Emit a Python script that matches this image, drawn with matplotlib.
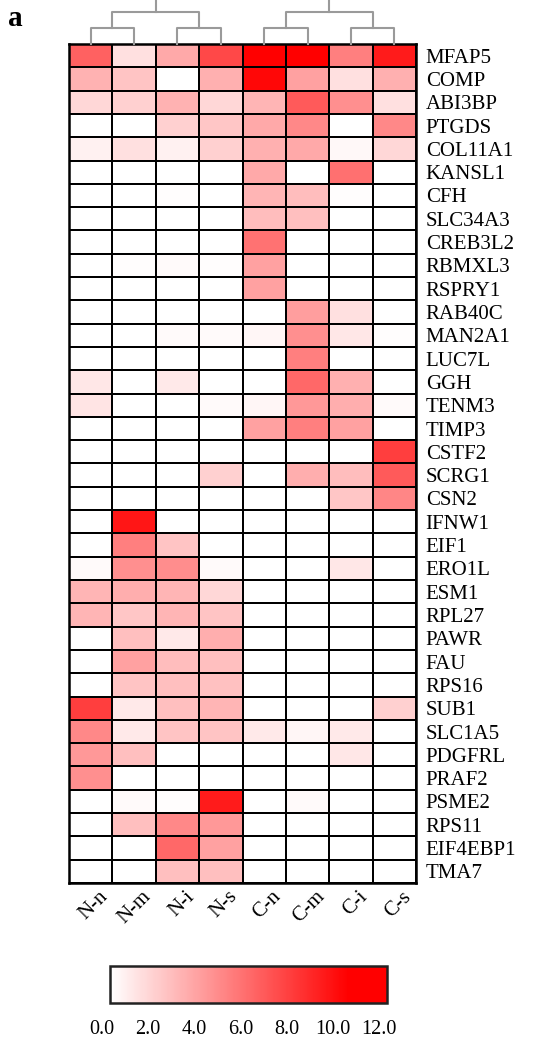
import numpy as np
import matplotlib
matplotlib.use('agg')
import matplotlib.pyplot as plt
from matplotlib.colors import LinearSegmentedColormap
import matplotlib.transforms as mtransforms

plt.rcParams['font.family'] = ['Liberation Serif', 'DejaVu Serif']

samples = ['N-n', 'N-m', 'N-i', 'N-s', 'C-n', 'C-m', 'C-i', 'C-s']
genes = ['MFAP5', 'COMP', 'ABI3BP', 'PTGDS', 'COL11A1', 'KANSL1', 'CFH',
         'SLC34A3', 'CREB3L2', 'RBMXL3', 'RSPRY1', 'RAB40C', 'MAN2A1',
         'LUC7L', 'GGH', 'TENM3', 'TIMP3', 'CSTF2', 'SCRG1', 'CSN2', 'IFNW1',
         'EIF1', 'ERO1L', 'ESM1', 'RPL27', 'PAWR', 'FAU', 'RPS16', 'SUB1',
         'SLC1A5', 'PDGFRL', 'PRAF2', 'PSME2', 'RPS11', 'EIF4EBP1', 'TMA7']

# expression per gene, columns in sample order
values = [
    [6.4, 1.3, 3.5, 7.4, 11.5, 11.0, 5.2, 9.2],
    [3.1, 2.4, 0.0, 3.2, 10.0, 3.8, 1.3, 3.2],
    [1.6, 1.9, 3.1, 1.6, 3.0, 6.7, 4.5, 1.3],
    [0.0, 0.0, 1.9, 2.3, 3.5, 4.8, 0.0, 4.8],
    [0.6, 1.3, 0.6, 1.9, 3.2, 3.5, 0.3, 1.6],
    [0.0, 0.0, 0.0, 0.0, 3.5, 0.0, 5.8, 0.0],
    [0.0, 0.0, 0.1, 0.0, 3.0, 2.7, 0.1, 0.0],
    [0.0, 0.0, 0.0, 0.0, 2.7, 2.6, 0.0, 0.0],
    [0.0, 0.0, 0.0, 0.0, 5.7, 0.0, 0.0, 0.0],
    [0.0, 0.1, 0.2, 0.1, 3.8, 0.0, 0.0, 0.0],
    [0.0, 0.0, 0.0, 0.0, 3.8, 0.0, 0.0, 0.0],
    [0.0, 0.0, 0.0, 0.0, 0.0, 3.9, 1.3, 0.0],
    [0.0, 0.0, 0.2, 0.2, 0.4, 4.5, 1.0, 0.1],
    [0.0, 0.0, 0.0, 0.0, 0.0, 5.2, 0.0, 0.0],
    [1.0, 0.0, 0.9, 0.0, 0.0, 6.1, 3.2, 0.0],
    [1.1, 0.0, 0.0, 0.2, 0.4, 4.2, 3.3, 0.2],
    [0.0, 0.0, 0.0, 0.0, 3.8, 5.2, 3.8, 0.0],
    [0.0, 0.0, 0.0, 0.0, 0.0, 0.0, 0.0, 7.8],
    [0.0, 0.0, 0.0, 1.9, 0.0, 3.3, 2.7, 6.7],
    [0.0, 0.0, 0.0, 0.0, 0.0, 0.0, 2.3, 4.9],
    [0.0, 9.4, 0.0, 0.0, 0.0, 0.0, 0.0, 0.0],
    [0.0, 5.2, 2.4, 0.0, 0.0, 0.0, 0.0, 0.0],
    [0.2, 4.5, 4.6, 0.2, 0.0, 0.0, 1.0, 0.0],
    [3.0, 3.3, 3.0, 1.6, 0.0, 0.0, 0.0, 0.0],
    [3.0, 2.3, 3.0, 2.4, 0.0, 0.0, 0.0, 0.0],
    [0.0, 2.6, 0.9, 3.3, 0.0, 0.0, 0.0, 0.0],
    [0.0, 3.8, 2.7, 2.6, 0.0, 0.0, 0.0, 0.0],
    [0.0, 2.4, 2.6, 2.5, 0.0, 0.0, 0.0, 0.0],
    [7.8, 0.9, 2.6, 3.0, 0.0, 0.0, 0.0, 1.9],
    [4.8, 0.9, 2.4, 2.4, 0.9, 0.4, 0.9, 0.0],
    [4.2, 2.6, 0.0, 0.0, 0.0, 0.0, 1.0, 0.0],
    [4.5, 0.0, 0.0, 0.0, 0.0, 0.0, 0.0, 0.0],
    [0.0, 0.2, 0.1, 9.2, 0.0, 0.2, 0.0, 0.0],
    [0.0, 2.6, 4.8, 4.2, 0.0, 0.0, 0.0, 0.0],
    [0.0, 0.0, 6.1, 3.8, 0.0, 0.0, 0.0, 0.0],
    [0.0, 0.0, 2.6, 2.6, 0.0, 0.0, 0.0, 0.0],
]

# column dendrogram: pairs merge at height 1, groups at 2, root at 3
pair_merges = [(0, 1), (2, 3), (4, 5), (6, 7)]
pair_height = 1.0
group_height = 2.0
root_height = 3.0
cbar_ticks = [0.0, 2.0, 4.0, 6.0, 8.0, 10.0, 12.0]

data = np.array(values)
cmap = LinearSegmentedColormap.from_list(
    'wr', [(0.0, '#ffffff'), (0.86, '#ff0000'), (1.0, '#ff0000')])

W, H = 536, 1042
fig = plt.figure(figsize=(W / 100, H / 100), dpi=100)

def box(x0, y0, x1, y1):
    return [x0 / W, 1 - y1 / H, (x1 - x0) / W, (y1 - y0) / H]

ax = fig.add_axes(box(69, 44, 416, 883))
mesh = ax.pcolormesh(data, cmap=cmap, vmin=0, vmax=12,
                     edgecolors='black', linewidth=1.4)
ax.set_xlim(0, len(samples))
ax.set_ylim(len(genes), 0)
for s in ax.spines.values():
    s.set_linewidth(1.8)

ax.yaxis.tick_right()
ax.set_yticks(np.arange(len(genes)) + 0.5)
ax.set_yticklabels(genes, fontsize=15)
ax.tick_params(axis='y', length=0, pad=7)

ax.set_xticks(np.arange(len(samples)) + 0.5)
ax.set_xticklabels(samples, fontsize=15, rotation=45, ha='right',
                   va='center', rotation_mode='anchor')
ax.tick_params(axis='x', length=0, pad=0)
offset = mtransforms.ScaledTranslation(14 / 100, -11 / 100, fig.dpi_scale_trans)
for lbl in ax.get_xticklabels():
    lbl.set_transform(lbl.get_transform() + offset)

# dendrogram above the heatmap
dax = fig.add_axes(box(69, 0, 416, 44))
dax.set_xlim(0, len(samples))
dax.set_ylim(0, 2.75)
dax.axis('off')
grey = '#9a9a9a'
pair_x = []
for a, b in pair_merges:
    xa, xb = a + 0.5, b + 0.5
    dax.plot([xa, xa, xb, xb], [0, pair_height, pair_height, 0],
             color=grey, lw=1.5, clip_on=False)
    pair_x.append((xa + xb) / 2)
group_x = []
for i in (0, 2):
    xa, xb = pair_x[i], pair_x[i + 1]
    dax.plot([xa, xa, xb, xb], [pair_height, group_height, group_height, pair_height],
             color=grey, lw=1.5)
    group_x.append((xa + xb) / 2)
dax.plot([group_x[0], group_x[0], group_x[1], group_x[1]],
         [group_height, root_height, root_height, group_height], color=grey, lw=1.5)

fig.text(8 / W, 1 - 26 / H, 'a', fontsize=21, fontweight='bold')

cax = fig.add_axes(box(110, 966, 387, 1003))
cb = fig.colorbar(mesh, cax=cax, orientation='horizontal', ticks=cbar_ticks)
cb.ax.set_xticklabels(['%.1f' % t for t in cbar_ticks], fontsize=14.5)
cb.ax.tick_params(length=0, pad=12)
shift = mtransforms.ScaledTranslation(-8 / 100, 0, fig.dpi_scale_trans)
for lbl in cb.ax.get_xticklabels():
    lbl.set_transform(lbl.get_transform() + shift)
cb.outline.set_linewidth(1.8)
cb.outline.set_edgecolor('#222222')

plt.savefig('out.png', dpi=100)
